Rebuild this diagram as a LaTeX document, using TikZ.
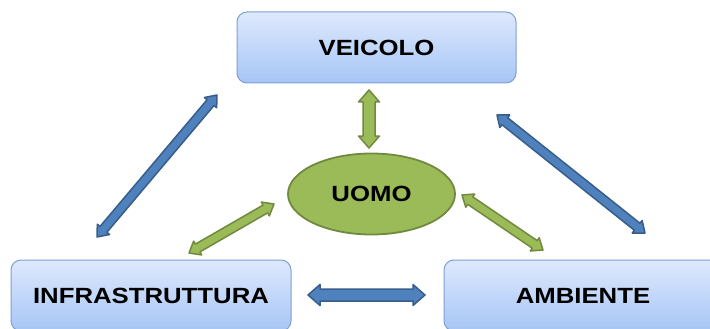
\documentclass[tikz,border=0pt]{standalone}
\usepackage{fontspec}
\setmainfont{Liberation Sans}
\usepackage{graphicx}
\usetikzlibrary{calc,shapes.geometric}
\definecolor{boxtop}{HTML}{DEE9FD}
\definecolor{boxbot}{HTML}{A6C5F5}
\definecolor{boxline}{HTML}{7DA0D5}
\definecolor{gfill}{HTML}{9BBB59}
\definecolor{gline}{HTML}{71893F}
\definecolor{bfill}{HTML}{4F81BD}
\definecolor{bline}{HTML}{385D8A}
\newcommand\blockarrow[6]{%
  \draw[#1] (#2)
   -- ($(#2)!#6!(#3)!#5!90:(#3)$)
   -- ($(#2)!#6!(#3)!#4!90:(#3)$)
   -- ($(#3)!#6!(#2)!#4!-90:(#2)$)
   -- ($(#3)!#6!(#2)!#5!-90:(#2)$)
   -- (#3)
   -- ($(#3)!#6!(#2)!#5!90:(#2)$)
   -- ($(#3)!#6!(#2)!#4!90:(#2)$)
   -- ($(#2)!#6!(#3)!#4!-90:(#3)$)
   -- ($(#2)!#6!(#3)!#5!-90:(#3)$)
   -- cycle;}
\tikzset{
  box/.style={draw=boxline, line width=1pt, rounded corners=10pt,
    top color=boxtop, bottom color=boxbot, minimum width=280pt,
    minimum height=71pt, inner sep=0pt, text=black},
  lbl/.style={font=\fontsize{22}{22}\selectfont\bfseries},
  man/.style={ellipse, draw=gline, line width=1.8pt, fill=gfill,
    minimum width=167pt, minimum height=81pt, inner sep=0pt},
  garrow/.style={fill=gfill, draw=gline, line width=1.5pt, line join=round},
  barrow/.style={fill=bfill, draw=bline, line width=1.5pt, line join=round}
}
\begin{document}
\begin{tikzpicture}[x=1pt,y=-1pt]
\useasboundingbox (0,0) rectangle (710,329);
\clip (0,0) rectangle (710,329);
\node[box, minimum width=279pt] (veicolo) at (376.5,47.5) {};
\node[lbl] at (veicolo.center) {\scalebox{1.17}[1]{VEICOLO}};
\node[box] (infra) at (151,295.5) {};
\node[lbl] at (infra.center) {\scalebox{1.17}[1]{INFRASTRUTTURA}};
\node[box] (ambiente) at (584,295.5) {};
\node[lbl] at (583,295.5) {\scalebox{1.17}[1]{AMBIENTE}};
\node[man] (uomo) at (371.5,194) {};
\node[lbl] at (uomo.center) {\scalebox{1.17}[1]{UOMO}};
% arrow end points
\coordinate (vu1) at (369,90);
\coordinate (vu2) at (369,148);
\coordinate (iu1) at (189,253);
\coordinate (iu2) at (274,204);
\coordinate (au1) at (462,195);
\coordinate (au2) at (543,250);
\coordinate (iv1) at (97,237);
\coordinate (iv2) at (217,95);
\coordinate (av1) at (497,115);
\coordinate (av2) at (645,233);
\coordinate (ia1) at (308,295);
\coordinate (ia2) at (425,295);
\blockarrow{garrow}{vu1}{vu2}{6pt}{10.5pt}{12pt}
\blockarrow{garrow}{iu1}{iu2}{4.5pt}{8pt}{10pt}
\blockarrow{garrow}{au1}{au2}{4.5pt}{8pt}{10pt}
\blockarrow{barrow}{iv1}{iv2}{4.5pt}{8pt}{10pt}
\blockarrow{barrow}{av1}{av2}{4.5pt}{8pt}{10pt}
\blockarrow{barrow}{ia1}{ia2}{6pt}{10.5pt}{12pt}
\end{tikzpicture}
\end{document}
